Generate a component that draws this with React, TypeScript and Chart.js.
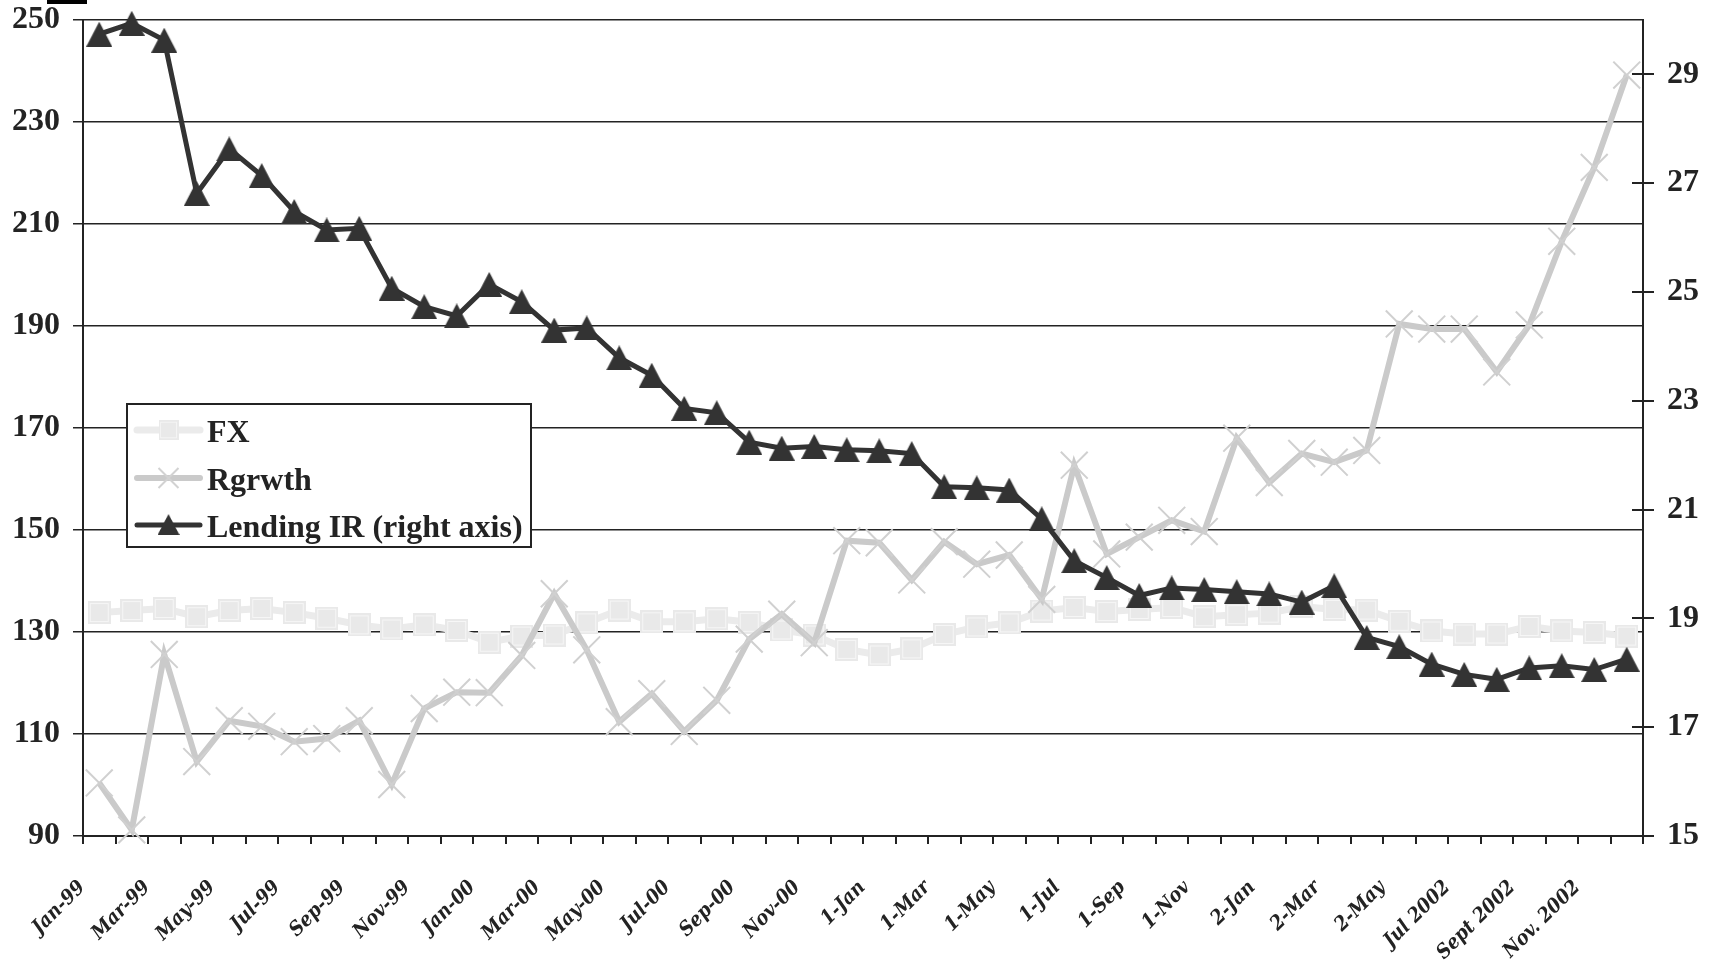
import React, { useEffect, useRef } from 'react';
import { Chart, registerables } from 'chart.js';

Chart.register(...registerables);

const categories = [
  'Jan-99', 'Feb-99', 'Mar-99', 'Apr-99', 'May-99', 'Jun-99', 'Jul-99', 'Aug-99', 'Sep-99', 'Oct-99', 'Nov-99', 'Dec-99',
  'Jan-00', 'Feb-00', 'Mar-00', 'Apr-00', 'May-00', 'Jun-00', 'Jul-00', 'Aug-00', 'Sep-00', 'Oct-00', 'Nov-00', 'Dec-00',
  '1-Jan', '1-Feb', '1-Mar', '1-Apr', '1-May', '1-Jun', '1-Jul', '1-Aug', '1-Sep', '1-Oct', '1-Nov', '1-Dec',
  '2-Jan', '2-Feb', '2-Mar', '2-Apr', '2-May', '2-Jun', 'Jul 2002', 'Aug 2002', 'Sept 2002', 'Oct 2002', 'Nov. 2002', 'Dec 2002',
];

const fx = [
  133.8, 134.2, 134.6, 133.0, 134.2, 134.6, 133.8, 132.7, 131.4, 130.6, 131.4, 130.3,
  128.0, 129.2, 129.4, 131.8, 134.3, 132.0, 132.0, 132.6, 131.9, 130.4, 129.4, 126.6,
  125.5, 126.7, 129.5, 131.0, 131.8, 134.1, 134.8, 134.0, 134.4, 134.8, 133.0, 133.4,
  133.7, 135.0, 134.4, 134.3, 132.1, 130.2, 129.6, 129.6, 131.1, 130.2, 129.9, 129.2,
];

const rgrwth = [
  100.4, 91.2, 125.6, 104.6, 112.6, 111.5, 108.5, 109.1, 112.6, 100.1, 115.0, 118.2,
  118.1, 125.4, 137.5, 126.5, 112.4, 117.9, 110.5, 116.6, 128.6, 133.5, 127.9, 147.9,
  147.5, 140.2, 147.7, 143.3, 145.1, 136.4, 162.7, 145.3, 148.6, 151.9, 149.7, 168.0,
  159.3, 165.0, 163.3, 165.6, 190.4, 189.4, 189.4, 181.0, 190.2, 206.6, 221.1, 239.2,
];

const lendingIR = [
  29.74, 29.94, 29.63, 26.81, 27.63, 27.14, 26.48, 26.14, 26.17, 25.07, 24.73, 24.56,
  25.14, 24.82, 24.30, 24.34, 23.79, 23.47, 22.86, 22.78, 22.24, 22.13, 22.16, 22.10,
  22.08, 22.03, 21.42, 21.40, 21.36, 20.83, 20.06, 19.75, 19.42, 19.56, 19.53, 19.49,
  19.45, 19.30, 19.60, 18.65, 18.48, 18.16, 17.97, 17.88, 18.09, 18.13, 18.06, 18.25,
];

const seriesLabels = ['FX', 'Rgrwth', 'Lending IR (right axis)'];
const rightTickValues = [15, 17, 19, 21, 23, 25, 27, 29];

const INK = '#232323';
const FX_COLOR = '#ebebeb';
const RG_COLOR = '#cacaca';
const LIR_COLOR = '#333333';
const TICK_FONT = { family: '"Liberation Serif", serif', size: 32, weight: 'bold' as const };

function makeTriangle(w: number, h: number, color: string) {
  const c = document.createElement('canvas');
  c.width = w;
  c.height = h;
  const g = c.getContext('2d')!;
  g.fillStyle = color;
  g.beginPath();
  g.moveTo(w / 2, 0);
  g.lineTo(w, h);
  g.lineTo(0, h);
  g.closePath();
  g.fill();
  return c;
}

function makeSquare(s: number) {
  const c = document.createElement('canvas');
  c.width = s;
  c.height = s;
  const g = c.getContext('2d')!;
  g.fillStyle = '#e9e9e9';
  g.fillRect(0, 0, s, s);
  g.strokeStyle = '#f7f7f7';
  g.lineWidth = 1;
  g.strokeRect(2.5, 2.5, s - 5, s - 5);
  return c;
}

function noPadding(s: any) {
  s.paddingTop = 0;
  s.paddingBottom = 0;
  s.paddingLeft = 0;
  s.paddingRight = 0;
}

export default function App() {
  const ref = useRef<HTMLCanvasElement | null>(null);

  useEffect(() => {
    document.body.style.margin = '0';
    const canvas = ref.current;
    if (!canvas) return;

    const tri = makeTriangle(26, 25, LIR_COLOR);
    const sq = makeSquare(23);

    const extrasPlugin = {
      id: 'extras',
      afterDraw(chart: any) {
        const ctx = chart.ctx as CanvasRenderingContext2D;
        const a = chart.chartArea;
        ctx.save();
        // small black bar at top-left
        ctx.fillStyle = '#000';
        ctx.fillRect(47, 0, 40, 4);

        // inner tick marks on right axis
        const r = chart.scales.y1;
        ctx.strokeStyle = INK;
        ctx.lineWidth = 2;
        rightTickValues.forEach((v) => {
          const y = Math.round(r.getPixelForValue(v));
          ctx.beginPath();
          ctx.moveTo(a.right - 11, y);
          ctx.lineTo(a.right, y);
          ctx.stroke();
        });

        // legend
        const bx = a.left + 44;
        const by = a.top + 384;
        const bw = 404;
        const bh = 143;
        ctx.fillStyle = '#ffffff';
        ctx.fillRect(bx, by, bw, bh);
        ctx.strokeStyle = INK;
        ctx.lineWidth = 2;
        ctx.strokeRect(bx, by, bw, bh);

        const rows = [by + 26, by + 74, by + 121];
        const x0 = bx + 10;
        const x1 = bx + 73;
        const xm = (x0 + x1) / 2;
        const ds = chart.data.datasets;
        ds.forEach((d: any, i: number) => {
          const y = rows[i];
          ctx.lineCap = 'round';
          ctx.strokeStyle = d.borderColor;
          ctx.lineWidth = d.borderWidth;
          ctx.beginPath();
          ctx.moveTo(x0, y);
          ctx.lineTo(x1, y);
          ctx.stroke();
          ctx.lineCap = 'butt';
          if (i === 0) {
            ctx.drawImage(sq, xm - 10, y - 10, 20, 20);
          } else if (i === 1) {
            ctx.strokeStyle = '#d2d2d2';
            ctx.lineWidth = 2;
            ctx.beginPath();
            ctx.moveTo(xm - 10, y - 10);
            ctx.lineTo(xm + 10, y + 10);
            ctx.moveTo(xm + 10, y - 10);
            ctx.lineTo(xm - 10, y + 10);
            ctx.stroke();
          } else {
            ctx.drawImage(tri, xm - 11, y - 11, 22, 21);
          }
          ctx.fillStyle = INK;
          ctx.font = 'bold 32px "Liberation Serif", serif';
          ctx.textAlign = 'left';
          ctx.textBaseline = 'alphabetic';
          ctx.fillText(d.label, bx + 80, y + 12);
        });
        ctx.restore();
      },
    };

    const chart = new Chart(canvas, {
      type: 'line',
      data: {
        labels: categories,
        datasets: [
          {
            label: seriesLabels[0],
            data: fx,
            yAxisID: 'y',
            borderColor: FX_COLOR,
            backgroundColor: FX_COLOR,
            borderWidth: 7,
            pointStyle: sq as any,
            pointRadius: 12,
            tension: 0,
            clip: false as any,
            order: 3,
          },
          {
            label: seriesLabels[1],
            data: rgrwth,
            yAxisID: 'y',
            borderColor: RG_COLOR,
            backgroundColor: RG_COLOR,
            borderWidth: 6,
            pointStyle: 'crossRot',
            pointRadius: 19,
            pointBorderWidth: 2,
            pointBorderColor: '#d0d0d0',
            tension: 0,
            clip: false as any,
            order: 2,
          },
          {
            label: seriesLabels[2],
            data: lendingIR,
            yAxisID: 'y1',
            borderColor: LIR_COLOR,
            backgroundColor: LIR_COLOR,
            borderWidth: 5,
            pointStyle: tri as any,
            pointRadius: 12,
            tension: 0,
            clip: false as any,
            order: 1,
          },
        ],
      },
      options: {
        animation: false,
        responsive: false,
        devicePixelRatio: 1,
        events: [],
        layout: { autoPadding: false, padding: { top: 20, left: 0, right: 0, bottom: 0 } },
        plugins: {
          legend: { display: false },
          tooltip: { enabled: false },
          title: { display: false },
        },
        scales: {
          x: {
            type: 'category',
            offset: true,
            grid: {
              offset: true,
              drawOnChartArea: false,
              drawTicks: true,
              tickLength: 8,
              color: INK,
              lineWidth: 2,
            },
            border: { display: true, color: INK, width: 2 },
            ticks: {
              autoSkip: false,
              minRotation: 45,
              maxRotation: 45,
              padding: 32,
              labelOffset: -17,
              color: INK,
              font: { family: '"DejaVu Serif Condensed", "DejaVu Serif", serif', size: 20, weight: 'bold', style: 'italic' },
              callback: (_v: any, i: number) => (i % 2 === 0 ? categories[i] : ''),
            },
            afterFit: (s: any) => {
              s.height = 125;
              noPadding(s);
            },
          },
          y: {
            position: 'left',
            min: 90,
            max: 250,
            ticks: { stepSize: 20, padding: 13, color: INK, font: TICK_FONT },
            grid: { color: INK, lineWidth: 1.5, tickLength: 10, drawTicks: true },
            border: { display: true, color: INK, width: 2 },
            afterFit: (s: any) => {
              s.width = 83;
              noPadding(s);
            },
          },
          y1: {
            position: 'right',
            min: 15,
            max: 30,
            afterBuildTicks: (s: any) => {
              s.ticks = rightTickValues.map((v) => ({ value: v }));
            },
            ticks: { padding: 13, color: INK, font: TICK_FONT },
            grid: { drawOnChartArea: false, tickLength: 11, color: INK, lineWidth: 2 },
            border: { display: true, color: INK, width: 2 },
            afterFit: (s: any) => {
              s.width = 70;
              noPadding(s);
            },
          },
        },
      } as any,
      plugins: [extrasPlugin],
    });

    return () => {
      chart.destroy();
    };
  }, []);

  return (
    <div style={{ position: 'absolute', left: 0, top: 0, width: 1713, height: 961, background: '#fff' }}>
      <canvas ref={ref} width={1713} height={961} style={{ width: 1713, height: 961, display: 'block' }} />
    </div>
  );
}
